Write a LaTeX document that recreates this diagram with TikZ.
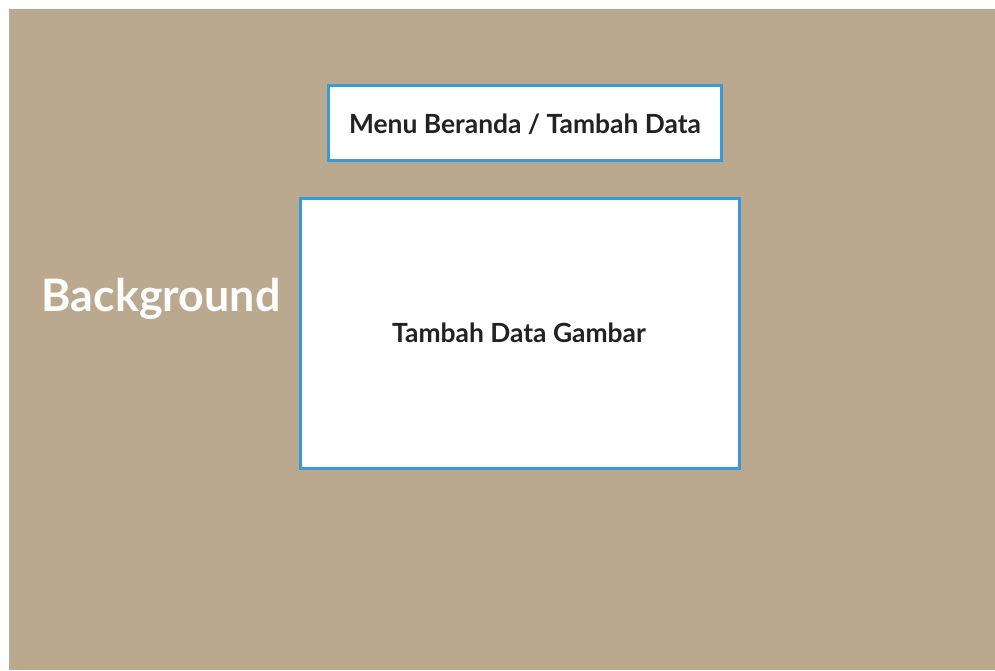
\documentclass[tikz,border=0pt]{standalone}
\usepackage{fontspec}
\setmainfont{Lato}
\definecolor{tan}{HTML}{BAA88F}
\definecolor{boxblue}{HTML}{3A9AD9}
\definecolor{txt}{HTML}{222222}
\begin{document}
\begin{tikzpicture}[x=1pt,y=-1pt,
  panel/.style={draw=boxblue,line width=3pt,fill=white,inner sep=0pt},
  lbl/.style={font=\fontsize{26.4}{30}\selectfont\bfseries,text=txt}]
\useasboundingbox (0,0) rectangle (995,670);
\fill[tan] (9,9) rectangle (995,670);
\node[font=\fontsize{44.8}{50}\selectfont\bfseries,text=white,anchor=west] (bg) at (38,299) {Background};
\draw[panel] (328,85) rectangle (721,160);
\node[lbl] (menu) at (525,124) {Menu Beranda / Tambah Data};
\draw[panel] (300,198) rectangle (739,468);
\node[lbl] (gambar) at (519,333) {Tambah Data Gambar};
\end{tikzpicture}
\end{document}
